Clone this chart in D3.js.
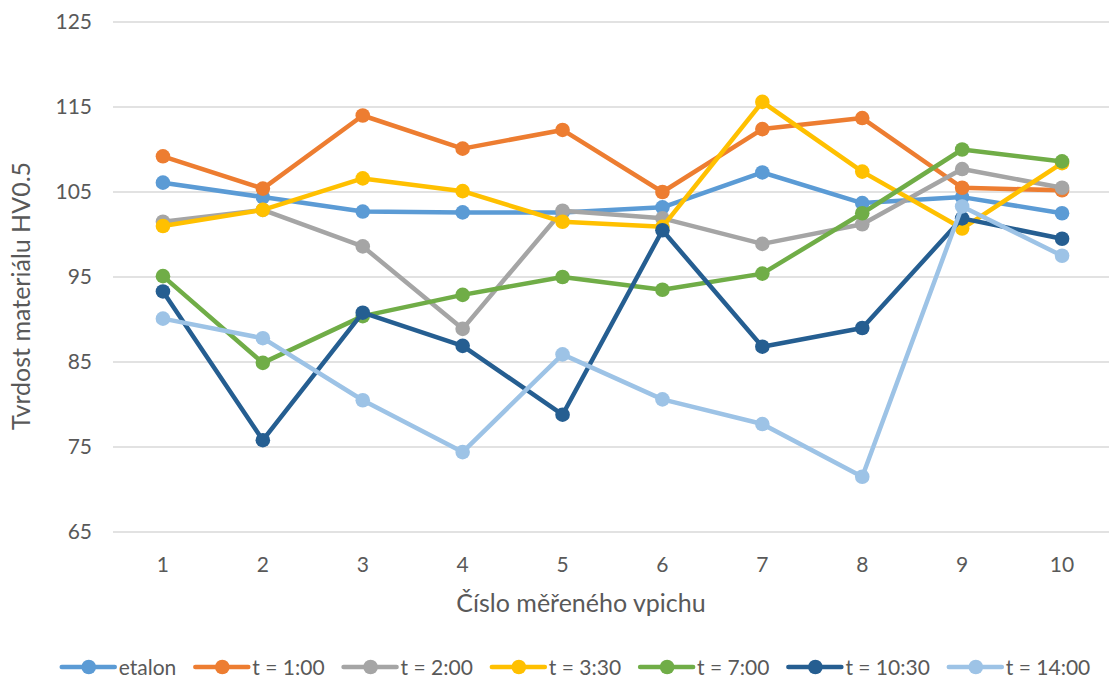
<!DOCTYPE html>
<html>
<head>
<meta charset="utf-8">
<script src="https://cdn.jsdelivr.net/npm/d3@7"></script>
<style>
  html, body { margin: 0; padding: 0; background: #fff; }
  svg { display: block; font-family: Lato, "Open Sans", sans-serif; }
</style>
</head>
<body>
<svg id="chart" width="1109" height="684"></svg>
<script>
// Measurement points (x categories)
const points = [1, 2, 3, 4, 5, 6, 7, 8, 9, 10];

// Hardness HV0.5 per series
const etalon = [106.1, 104.4, 102.7, 102.6, 102.6, 103.2, 107.3, 103.7, 104.4, 102.5];
const t0100  = [109.2, 105.4, 114.0, 110.1, 112.3, 105.0, 112.4, 113.7, 105.5, 105.2];
const t0200  = [101.5, 102.9, 98.6, 88.9, 102.8, 101.9, 98.9, 101.2, 107.7, 105.5];
const t0330  = [101.0, 102.9, 106.6, 105.1, 101.5, 100.9, 115.6, 107.4, 100.7, 108.4];
const t0700  = [95.1, 84.9, 90.4, 92.9, 95.0, 93.5, 95.4, 102.5, 110.0, 108.6];
const t1030  = [93.3, 75.8, 90.8, 86.9, 78.8, 100.5, 86.8, 89.0, 101.9, 99.5];
const t1400  = [90.1, 87.8, 80.5, 74.4, 85.9, 80.6, 77.7, 71.5, 103.3, 97.5];

const seriesNames = ["etalon", "t = 1:00", "t = 2:00", "t = 3:30", "t = 7:00", "t = 10:30", "t = 14:00"];
const seriesValues = [etalon, t0100, t0200, t0330, t0700, t1030, t1400];
const seriesColors = ["#5B9BD5", "#ED7D31", "#A5A5A5", "#FFC000", "#70AD47", "#255E91", "#9DC3E6"];

const yTicks = [65, 75, 85, 95, 105, 115, 125];

const series = seriesNames.map((name, i) => ({
  name, color: seriesColors[i],
  values: seriesValues[i].map((v, j) => ({ p: points[j], v }))
}));

const svg = d3.select("#chart");
const margin = { left: 113, right: -3, top: 22, bottom: 152 };
const W = 1109, H = 684;
const textColor = "#595959";

const x = d3.scaleBand()
  .domain(points)
  .range([margin.left, W - margin.right]);

const y = d3.scaleLinear()
  .domain([65, 125])
  .range([H - margin.bottom, margin.top]);

const cx = d => x(d) + x.bandwidth() / 2;

// Horizontal gridlines
svg.append("g")
  .selectAll("line")
  .data(yTicks)
  .join("line")
  .attr("x1", margin.left)
  .attr("x2", W - margin.right)
  .attr("y1", d => y(d))
  .attr("y2", d => y(d))
  .attr("stroke", "#D9D9D9")
  .attr("stroke-width", 1.3);

// Y axis labels
const yAxis = svg.append("g")
  .attr("transform", `translate(${margin.left - 21},0)`)
  .call(d3.axisLeft(y).tickValues(yTicks).tickSize(0).tickPadding(0));
yAxis.select(".domain").remove();
yAxis.selectAll("text")
  .attr("fill", textColor)
  .attr("dy", "0.3em")
  .style("font-size", "21px")
  .style("font-family", "Lato, 'Open Sans', sans-serif");

// X axis labels
const xAxis = svg.append("g")
  .attr("transform", `translate(0,${y(65) + 40})`)
  .call(d3.axisBottom(x).tickSize(0).tickPadding(0));
xAxis.select(".domain").remove();
xAxis.selectAll("text")
  .attr("fill", textColor)
  .attr("dy", 0)
  .style("font-size", "21px")
  .style("font-family", "Lato, 'Open Sans', sans-serif");

// Axis titles (centred on the plot block including its tick labels)
svg.append("text")
  .attr("x", 581)
  .attr("y", 612)
  .attr("text-anchor", "middle")
  .attr("fill", textColor)
  .style("font-size", "25px")
  .text("Číslo měřeného vpichu");

svg.append("text")
  .attr("transform", `translate(30,296) rotate(-90)`)
  .attr("text-anchor", "middle")
  .attr("fill", textColor)
  .style("font-size", "25px")
  .text("Tvrdost materiálu HV0.5");

// Series lines and markers
const line = d3.line()
  .x(d => cx(d.p))
  .y(d => y(d.v));

const gSeries = svg.append("g")
  .selectAll("g")
  .data(series)
  .join("g");

gSeries.append("path")
  .attr("d", d => line(d.values))
  .attr("fill", "none")
  .attr("stroke", d => d.color)
  .attr("stroke-width", 4.5)
  .attr("stroke-linejoin", "round")
  .attr("stroke-linecap", "round");

gSeries.selectAll("circle")
  .data(d => d.values.map(v => ({ ...v, color: d.color })))
  .join("circle")
  .attr("cx", d => cx(d.p))
  .attr("cy", d => y(d.v))
  .attr("r", 7.3)
  .attr("fill", d => d.color);

// Legend
const legend = svg.append("g");
let lx = 0;
series.forEach(s => {
  const item = legend.append("g").attr("transform", `translate(${lx},0)`);
  item.append("line")
    .attr("x1", 2).attr("x2", 55)
    .attr("y1", 0).attr("y2", 0)
    .attr("stroke", s.color)
    .attr("stroke-width", 4.5)
    .attr("stroke-linecap", "round");
  item.append("circle")
    .attr("cx", 29).attr("cy", 0).attr("r", 7.3)
    .attr("fill", s.color);
  const t = item.append("text")
    .attr("x", 59)
    .attr("y", 7.5)
    .attr("fill", textColor)
    .style("font-size", "21px")
    .text(s.name);
  lx += 59 + t.node().getComputedTextLength() + 17;
});
lx -= 17;
legend.attr("transform", `translate(${575 - lx / 2},667)`);
</script>
</body>
</html>
